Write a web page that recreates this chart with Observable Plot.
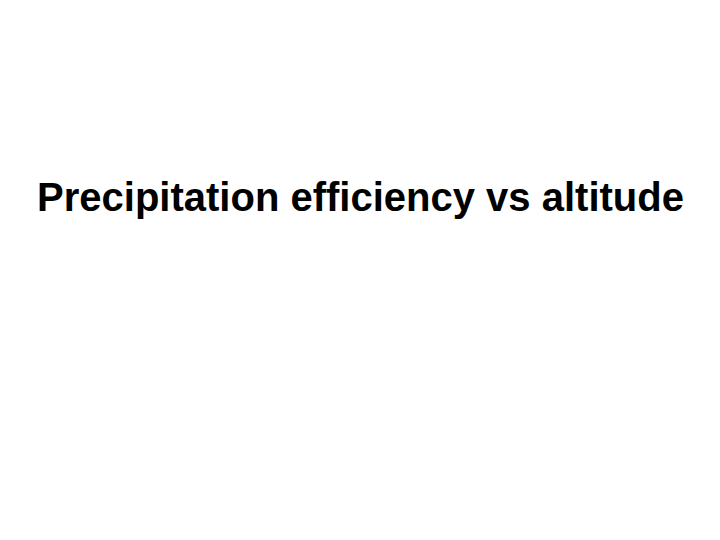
<!DOCTYPE html>
<html>
<head>
<meta charset="utf-8">
<script src="https://cdn.jsdelivr.net/npm/d3@7"></script>
<script src="https://cdn.jsdelivr.net/npm/@observablehq/plot@0.6"></script>
<style>
  html, body { margin: 0; padding: 0; background: #fff; }
</style>
</head>
<body>
<div id="chart"></div>
<script>
const titles = ["Precipitation efficiency vs altitude"];

const chart = Plot.plot({
  width: 720,
  height: 540,
  margin: 0,
  style: { fontFamily: "Liberation Sans, Arial, sans-serif", background: "#fff" },
  marks: [
    Plot.text(titles, {
      text: d => d,
      frameAnchor: "top",
      textAnchor: "middle",
      dy: 182,
      fontSize: 40,
      fontWeight: "bold",
      fill: "#000"
    })
  ]
});
document.getElementById("chart").appendChild(chart);
</script>
</body>
</html>
